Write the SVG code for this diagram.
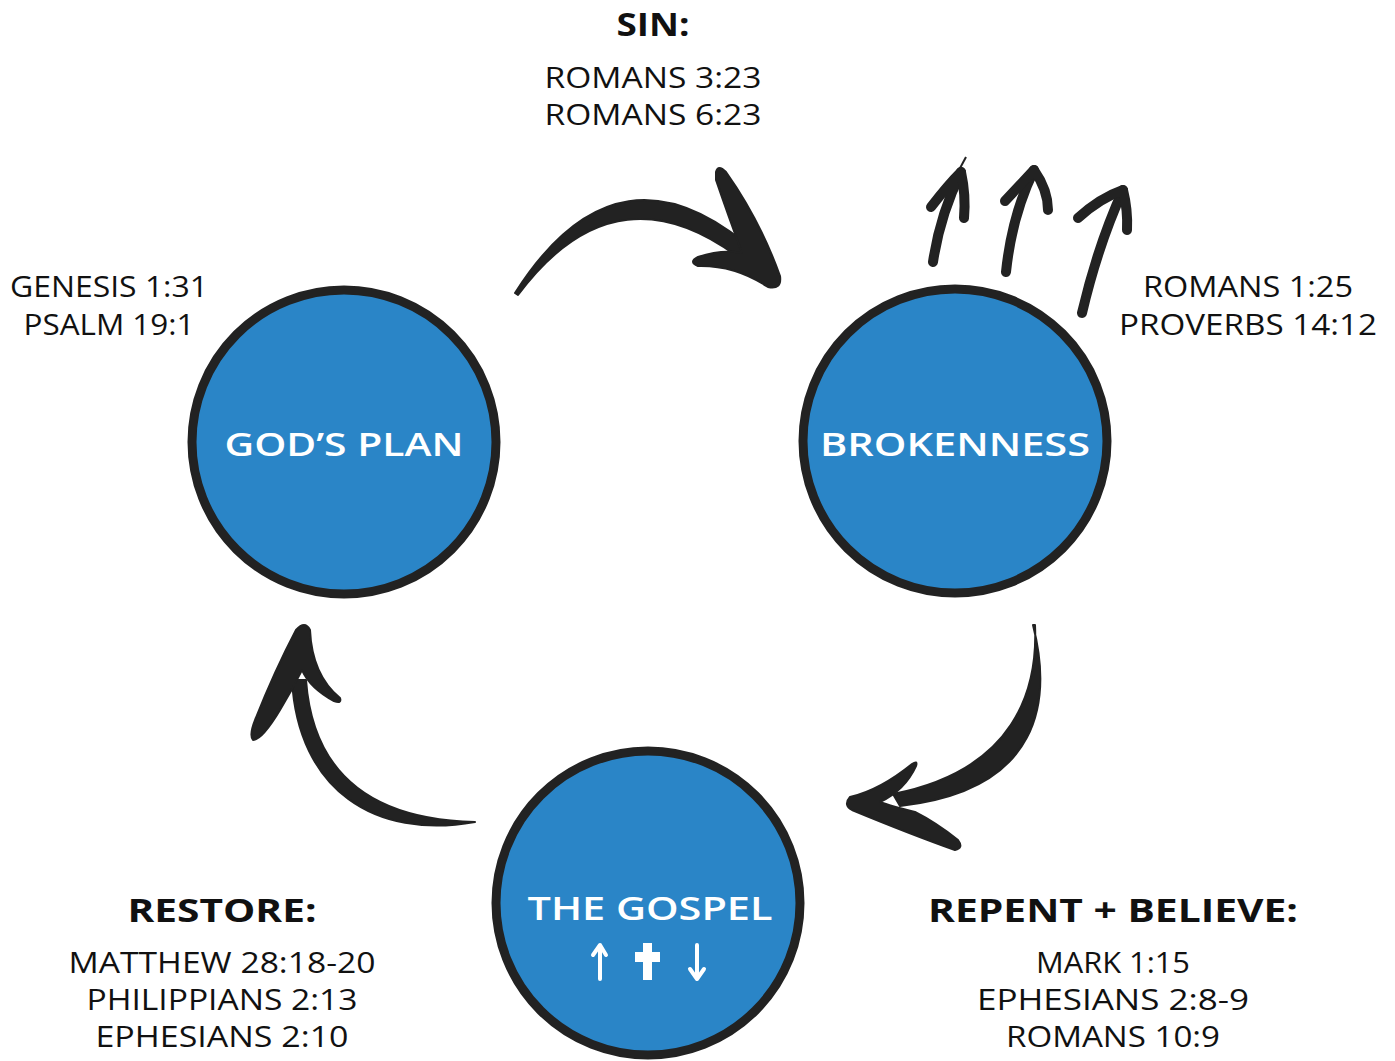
<svg xmlns="http://www.w3.org/2000/svg" width="1395" height="1061" viewBox="0 0 1395 1061">
<style>
.ref{font-family:"Open Sans","Liberation Sans",sans-serif;font-size:30px;fill:#111;text-anchor:middle}
.hd{font-family:"Open Sans","Liberation Sans",sans-serif;font-size:33px;font-weight:700;fill:#111;text-anchor:middle}
.lbl{font-family:"Open Sans","Liberation Sans",sans-serif;font-size:33px;font-weight:600;fill:#fff;text-anchor:middle}
.node{fill:#2a85c7;stroke:#222;stroke-width:9}
.arr{fill:#222;stroke:#222;stroke-width:2;stroke-linejoin:round}
.sm{fill:none;stroke:#222;stroke-width:10;stroke-linecap:round;stroke-linejoin:round}
.wh{fill:none;stroke:#fff;stroke-width:4;stroke-linecap:round;stroke-linejoin:round}
</style>
<rect width="1395" height="1061" fill="#fff"/>
<g id="connectors">
  <!-- top arrow -->
  <path class="arr" d="M515,293 Q620,128 760,256 L752,268 Q620,158 518,295 Z"/>
  <path class="arr" d="M716,172 Q718,164 726,172 Q760,220 780,276 Q782,290 768,287 Q735,265 698,266 Q688,262 698,257 Q722,249 742,253 Q728,215 716,180 Z"/>
  <!-- right arrow -->
  <path class="arr" d="M1033,625 C1052,700 1042,790 900,806 L893,794 C1015,770 1038,690 1035,625 Z"/>
  <path class="arr" d="M850,797 Q843,805 852,810 Q910,834 955,850 Q964,848 958,840 Q935,822 915,812 Q890,806 880,802 Q905,790 916,766 Q918,760 912,764 Q880,790 850,797 Z"/>
  <!-- left arrow -->
  <path class="arr" d="M475,822 C375,840 298,790 292,680 L306,680 C314,788 390,820 475,822 Z"/>
  <path class="arr" d="M296,630 Q305,620 310,630 Q312,675 340,698 Q342,704 334,701 Q310,688 302,670 Q292,690 280,710 Q262,740 253,740 Q249,735 255,720 Q275,670 296,630 Z"/>
  <!-- small arrows -->
  <path class="sm" d="M933,262 Q940,215 961,172"/>
  <path class="sm" d="M931,207 Q948,185 961,172 Q966,195 964,218"/>
  <path d="M959,170 L966,157" stroke="#222" stroke-width="2" fill="none"/>
  <path class="sm" d="M1006,272 Q1012,215 1034,170"/>
  <path class="sm" d="M1005,201 Q1020,185 1034,170 Q1048,190 1048,210"/>
  <path class="sm" d="M1082,313 Q1098,245 1123,190"/>
  <path class="sm" d="M1078,218 Q1100,198 1123,190 Q1128,210 1127,230"/>
</g>
<g id="gods-plan">
  <circle class="node" cx="344" cy="442" r="152"/>
  <text class="lbl" x="344" y="456" textLength="239" lengthAdjust="spacingAndGlyphs">GOD’S PLAN</text>
</g>
<g id="brokenness">
  <circle class="node" cx="955" cy="441" r="152"/>
  <text class="lbl" x="955" y="456" textLength="270" lengthAdjust="spacingAndGlyphs">BROKENNESS</text>
</g>
<g id="the-gospel">
  <circle class="node" cx="648" cy="903" r="152"/>
  <text class="lbl" x="650" y="920" textLength="245" lengthAdjust="spacingAndGlyphs">THE GOSPEL</text>
  <path class="wh" d="M600,979 L600,946 M593,955 L600,945 L606,955"/>
  <path d="M643,943 H652 V952 H660 V962 H652 V980 H643 V962 H635 V952 H643 Z" fill="#fff"/>
  <path class="wh" d="M697,945 L697,978 M690,969 L697,979 L704,969"/>
</g>
<g id="sin">
  <text class="hd" x="653" y="36" textLength="73" lengthAdjust="spacingAndGlyphs">SIN:</text>
  <text class="ref" x="653" y="88" textLength="217" lengthAdjust="spacingAndGlyphs">ROMANS 3:23</text>
  <text class="ref" x="653" y="125" textLength="217" lengthAdjust="spacingAndGlyphs">ROMANS 6:23</text>
</g>
<g id="gods-plan-refs">
  <text class="ref" x="109" y="297" textLength="198" lengthAdjust="spacingAndGlyphs">GENESIS 1:31</text>
  <text class="ref" x="109" y="335" textLength="171" lengthAdjust="spacingAndGlyphs">PSALM 19:1</text>
</g>
<g id="brokenness-refs">
  <text class="ref" x="1248" y="297" textLength="210" lengthAdjust="spacingAndGlyphs">ROMANS 1:25</text>
  <text class="ref" x="1248" y="335" textLength="258" lengthAdjust="spacingAndGlyphs">PROVERBS 14:12</text>
</g>
<g id="restore">
  <text class="hd" x="222" y="922" textLength="189" lengthAdjust="spacingAndGlyphs">RESTORE:</text>
  <text class="ref" x="222" y="973" textLength="307" lengthAdjust="spacingAndGlyphs">MATTHEW 28:18-20</text>
  <text class="ref" x="222" y="1010" textLength="271" lengthAdjust="spacingAndGlyphs">PHILIPPIANS 2:13</text>
  <text class="ref" x="222" y="1047" textLength="253" lengthAdjust="spacingAndGlyphs">EPHESIANS 2:10</text>
</g>
<g id="repent-believe">
  <text class="hd" x="1113" y="922" textLength="370" lengthAdjust="spacingAndGlyphs">REPENT + BELIEVE:</text>
  <text class="ref" x="1113" y="973" textLength="154" lengthAdjust="spacingAndGlyphs">MARK 1:15</text>
  <text class="ref" x="1113" y="1010" textLength="272" lengthAdjust="spacingAndGlyphs">EPHESIANS 2:8-9</text>
  <text class="ref" x="1113" y="1047" textLength="214" lengthAdjust="spacingAndGlyphs">ROMANS 10:9</text>
</g>
</svg>
